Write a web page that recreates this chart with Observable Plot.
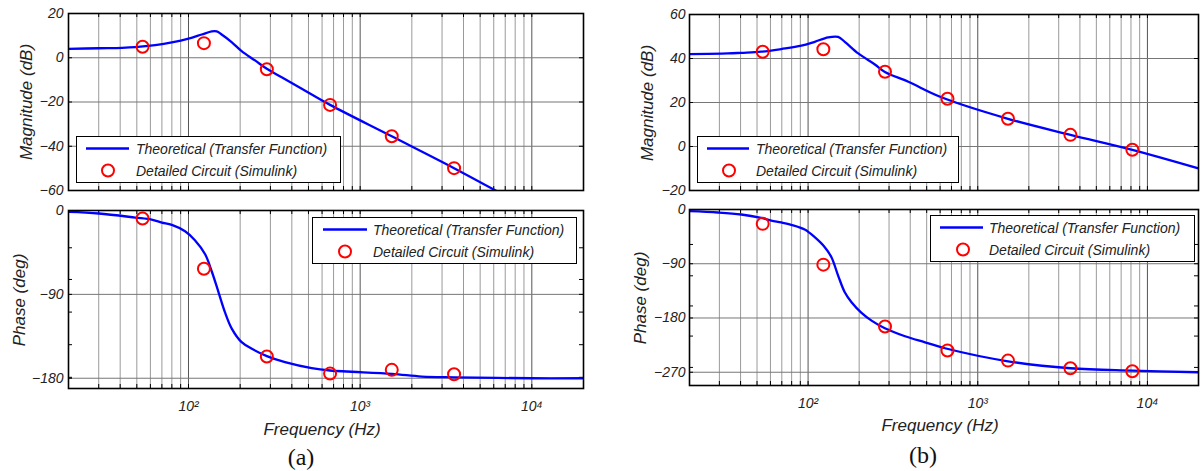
<!DOCTYPE html>
<html><head><meta charset="utf-8">
<script src="https://cdn.jsdelivr.net/npm/d3@7"></script>
<script src="https://cdn.jsdelivr.net/npm/@observablehq/plot@0.6"></script>
<style>
body{margin:0;background:#fff;}
#fig{position:relative;width:1204px;height:471px;overflow:hidden;font-family:"Liberation Sans",Arial,sans-serif;background:#fff;}
.pl{position:absolute;}
.lab{position:absolute;font-style:italic;font-size:17px;color:#222;white-space:nowrap;line-height:1;}
.ylab{transform:translate(-50%,-50%) rotate(-90deg);}
.xlab{transform:translate(-50%,-50%);}
.cap{position:absolute;font-family:"Liberation Serif","Times New Roman",serif;font-size:24px;color:#111;transform:translate(-50%,-50%);line-height:1;}
.leg{position:absolute;border:1.5px solid #000;background:#fff;box-sizing:border-box;height:47px;}
.leg svg{position:absolute;left:0;top:0;}
.leg span{position:absolute;font-style:italic;font-size:14px;color:#222;white-space:nowrap;line-height:16px;}
</style></head>
<body><div id="fig"></div>
<script>
// ---------- data ----------
const seriesNames = ["Theoretical (Transfer Function)", "Detailed Circuit (Simulink)"];
const xTickValues = [100, 1000, 10000];
const xTickLabels = ["10\u00B2", "10\u00B3", "10\u2074"];
const gridMinor = [20,30,40,50,60,70,80,90,200,300,400,500,600,700,800,900,2000,3000,4000,5000,6000,7000,8000,9000,20000];
const gridMajor = [100, 1000, 10000];

// (a) theoretical magnitude
const aMagCurveF  = [20, 30, 41, 49, 64, 80, 100, 119.5, 136.7, 146, 156, 179, 204, 244, 286, 349, 457, 668, 1528, 3524, 6250];
const aMagCurveDb = [4.0, 4.3, 4.5, 4.8, 5.7, 6.9, 8.6, 10.5, 11.9, 11.9, 10.5, 7.0, 3.0, -1.2, -5.0, -8.8, -14.0, -21.3, -35.5, -49.9, -60.3];
// (a) theoretical phase
const aPhCurveF   = [20, 30, 49, 61, 70, 80, 95.5, 109, 125, 137, 149.5, 163, 179, 204, 234, 286, 365, 522, 668, 1528, 2286, 3575, 9966, 20000];
const aPhCurveDeg = [-1.5, -3.2, -7.6, -9.8, -12.9, -15.5, -22.3, -31.9, -47, -66, -87.5, -109, -127, -141.3, -148.4, -156.3, -162.8, -169.2, -171.7, -175.3, -178.2, -179, -180, -180];
// (a) simulink points
const aSimF   = [54, 123, 286, 668, 1528, 3524];
const aSimDb  = [5.0, 6.6, -5.2, -21.3, -35.5, -49.9];
const aSimDeg = [-8.6, -62.5, -156.7, -175, -171, -175.7];

// (b) theoretical magnitude
const bMagCurveF  = [20, 33.6, 40.4, 52.9, 69.5, 91.3, 109.4, 131.3, 150.3, 164.5, 197.5, 247.5, 283.6, 390, 605, 1507, 3516, 8150, 20460];
const bMagCurveDb = [42.0, 42.3, 42.6, 43.1, 44.3, 45.8, 47.6, 49.6, 49.8, 47.6, 42.3, 37.3, 33.9, 29.4, 22.5, 12.6, 5.3, -1.55, -10.2];
// (b) theoretical phase
const bPhCurveF   = [20, 29.4, 40.4, 52.9, 60.7, 69.5, 79.6, 95.5, 109.4, 125.4, 137.3, 150.3, 164.5, 180.3, 206.5, 236.6, 283.6, 372.6, 488.8, 641, 1507, 3516, 8150, 20000];
const bPhCurveDeg = [-2.8, -5, -8.3, -14, -18.3, -21.5, -25.4, -33.2, -46, -62.6, -79.2, -109.6, -137.3, -153.9, -171.5, -184.3, -197, -210.3, -220.3, -230.2, -251.8, -263.4, -267.3, -270];
// (b) simulink points
const bSimF   = [54, 123, 284, 663, 1507, 3516, 8150];
const bSimDb  = [43.1, 44.2, 34.0, 21.7, 12.6, 5.3, -1.5];
const bSimDeg = [-23.8, -91.5, -194.2, -234, -250.7, -263.4, -268.4];

// axis ticks
const aMagTicks = [20, 0, -20, -40, -60];
const aPhTicks = [0, -90, -180];
const aPhMinor = [-40, -74, -109, -144, -179];
const bMagTicks = [60, 40, 20, 0, -20];
const bPhTicks = [0, -90, -180, -270];
const bPhMinor = [-58, -110, -160, -210, -262];

// ---------- helpers ----------
const zip = (xs, ys) => xs.map((x, i) => ({x, y: ys[i]}));
const fig = document.getElementById("fig");

function panel(o) {
  const plotH = o.h - o.mt - o.mb;
  const plotW = o.w - o.ml - o.mr;
  const marks = [
    Plot.ruleX(gridMinor, {stroke: "#9a9a9a", strokeWidth: 1}),
    Plot.ruleX(gridMajor, {stroke: "#555", strokeWidth: 1}),
    Plot.ruleY(o.yTicks, {stroke: "#777", strokeWidth: 1}),
    Plot.tickX(gridMinor.concat(gridMajor), {insetTop: plotH - 4, stroke: "#000"}),
    Plot.tickX(gridMinor.concat(gridMajor), {insetBottom: plotH - 4, stroke: "#000"}),
    Plot.tickY(o.yTicks.concat(o.yMinor || []), {insetRight: plotW - 4, stroke: "#000"}),
    Plot.tickY(o.yTicks.concat(o.yMinor || []), {insetLeft: plotW - 4, stroke: "#000"}),
    Plot.line(o.curve, {x: "x", y: "y", stroke: "#0000ff", strokeWidth: 2.3, curve: "catmull-rom", clip: true}),
    Plot.dot(o.points, {x: "x", y: "y", r: 6, stroke: "#ff0000", strokeWidth: 2, fill: "none"}),
    Plot.frame({stroke: "#000", strokeWidth: 1.6}),
    Plot.axisY({ticks: o.yTicks, tickSize: 0, tickPadding: o.yPad, label: null})
  ];
  if (o.xAxis) {
    marks.push(Plot.axisX({ticks: xTickValues, tickSize: 0, tickPadding: 13, label: null,
      tickFormat: d => xTickLabels[xTickValues.indexOf(d)]}));
  }
  const svg = Plot.plot({
    width: o.w, height: o.h,
    marginLeft: o.ml, marginRight: o.mr, marginTop: o.mt, marginBottom: o.mb,
    x: {type: "log", domain: [20, 20000], axis: o.xAxis ? undefined : null},
    y: {domain: o.yDomain},
    style: {fontFamily: '"Liberation Sans", Arial, sans-serif', fontStyle: "italic", fontSize: "14px", color: "#222", background: "transparent", overflow: "visible"},
    marks
  });
  svg.classList.add("pl");
  svg.style.left = o.left + "px";
  svg.style.top = o.top + "px";
  fig.appendChild(svg);
}

function label(cls, text, x, y) {
  const d = document.createElement("div");
  d.className = cls;
  d.textContent = text;
  d.style.left = x + "px";
  d.style.top = y + "px";
  fig.appendChild(d);
}

function legend(left, top, width, lx1, lx2, cx, tx) {
  const d = document.createElement("div");
  d.className = "leg";
  d.style.left = left + "px";
  d.style.top = top + "px";
  d.style.width = width + "px";
  const ns = "http://www.w3.org/2000/svg";
  const s = document.createElementNS(ns, "svg");
  s.setAttribute("width", width); s.setAttribute("height", 47);
  const ln = document.createElementNS(ns, "line");
  ln.setAttribute("x1", lx1); ln.setAttribute("x2", lx2); ln.setAttribute("y1", 11.5); ln.setAttribute("y2", 11.5);
  ln.setAttribute("stroke", "#0000ff"); ln.setAttribute("stroke-width", 2.3);
  const c = document.createElementNS(ns, "circle");
  c.setAttribute("cx", cx); c.setAttribute("cy", 33.5); c.setAttribute("r", 6);
  c.setAttribute("fill", "none"); c.setAttribute("stroke", "#ff0000"); c.setAttribute("stroke-width", 2);
  s.appendChild(ln); s.appendChild(c); d.appendChild(s);
  seriesNames.forEach((t, i) => {
    const sp = document.createElement("span");
    sp.textContent = t;
    sp.style.left = tx + "px";
    sp.style.top = (i === 0 ? 4 : 26) + "px";
    d.appendChild(sp);
  });
  fig.appendChild(d);
}

// ---------- panels ----------
panel({left: 0, top: 0, w: 600, h: 200, ml: 68, mr: 17, mt: 13, mb: 10,
  yDomain: [-60, 20], yTicks: aMagTicks, yPad: 5,
  curve: zip(aMagCurveF, aMagCurveDb), points: zip(aSimF, aSimDb), xAxis: false});
panel({left: 0, top: 200, w: 600, h: 271, ml: 68, mr: 17, mt: 10, mb: 83,
  yDomain: [-191, 0], yTicks: aPhTicks, yMinor: aPhMinor, yPad: 5,
  curve: zip(aPhCurveF, aPhCurveDeg), points: zip(aSimF, aSimDeg), xAxis: true});
panel({left: 600, top: 0, w: 604, h: 200, ml: 89, mr: 6, mt: 14, mb: 10,
  yDomain: [-20, 60], yTicks: bMagTicks, yPad: 4,
  curve: zip(bMagCurveF, bMagCurveDb), points: zip(bSimF, bSimDb), xAxis: false});
panel({left: 600, top: 200, w: 604, h: 271, ml: 89, mr: 6, mt: 9, mb: 86,
  yDomain: [-292, 0], yTicks: bPhTicks, yMinor: bPhMinor, yPad: 4,
  curve: zip(bPhCurveF, bPhCurveDeg), points: zip(bSimF, bSimDeg), xAxis: true});

// ---------- legends ----------
legend(76, 136, 265, 9, 52, 31, 59);
legend(312, 217, 265, 10, 54, 32, 60);
legend(697, 136, 262, 9, 51, 31, 58);
legend(930, 215, 265, 9, 52, 32, 58);

// ---------- text labels ----------
label("lab ylab", "Magnitude (dB)", 26, 102);
label("lab ylab", "Phase (deg)", 18.5, 300);
label("lab ylab", "Magnitude (dB)", 646.5, 103);
label("lab ylab", "Phase (deg)", 639.5, 298);
label("lab xlab", "Frequency (Hz)", 322, 429);
label("lab xlab", "Frequency (Hz)", 940, 425);
label("cap", "(a)", 301, 457);
label("cap", "(b)", 923, 455);
</script>
</body></html>
